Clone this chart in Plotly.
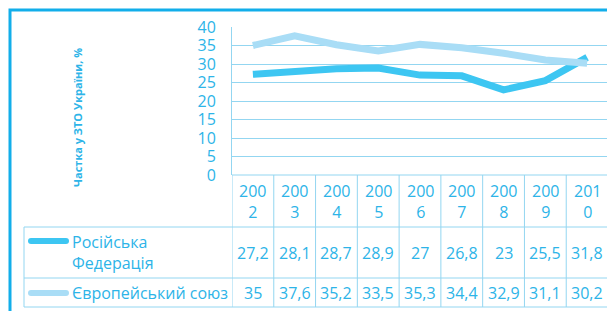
import plotly.graph_objects as go

years = ["2002", "2003", "2004", "2005", "2006", "2007", "2008", "2009", "2010"]
rf_values = [27.2, 28.1, 28.7, 28.9, 27.0, 26.8, 23.0, 25.5, 31.8]
eu_values = [35.0, 37.6, 35.2, 33.5, 35.3, 34.4, 32.9, 31.1, 30.2]
series_names = ["Російська<br>Федерація", "Європейський союз"]
y_ticks = [0, 5, 10, 15, 20, 25, 30, 35, 40]
y_title = "Частка у ЗТО України, %"

# the page body adds an 8px margin, so the figure is laid out 8px smaller
OFF = 8
W, H = 615 - OFF, 311 - OFF
FONT = "Open Sans"
TXT = "#2DB4E8"
GRID = "#93D6F1"
RF_COL = "#3DC6F2"
EU_COL = "#A9DDF6"
FRAME = "#12AEEA"


def px(x):
    return (x - OFF) / W


def py(y):
    return 1 - (y - OFF) / H


def fmt(v):
    return ("%g" % v).replace(".", ",")


n = len(years)
xs = list(range(n))

fig = go.Figure()
fig.add_trace(go.Scatter(x=xs, y=rf_values, mode="lines",
                         line=dict(color=RF_COL, width=7), hoverinfo="skip"))
fig.add_trace(go.Scatter(x=xs, y=eu_values, mode="lines",
                         line=dict(color=EU_COL, width=7), hoverinfo="skip"))

shapes = []
annotations = []

plot_left, plot_right = 232, 608
plot_top = 27
hdr_top, row1_top, row2_top, tbl_bottom = 175, 227, 278, 307
tbl_left = 24

lw = dict(color=GRID, width=1)
shapes.append(dict(type="line", xref="paper", yref="paper", x0=px(plot_left), x1=px(plot_right),
                   y0=py(hdr_top), y1=py(hdr_top), line=lw))
for yy in (row1_top, row2_top, tbl_bottom):
    shapes.append(dict(type="line", xref="paper", yref="paper", x0=px(tbl_left), x1=px(plot_right),
                       y0=py(yy), y1=py(yy), line=lw))
for i in range(n + 1):
    shapes.append(dict(type="line", xref="x", yref="paper", x0=i - 0.5, x1=i - 0.5,
                       y0=py(hdr_top), y1=py(tbl_bottom), line=lw))
shapes.append(dict(type="line", xref="paper", yref="paper", x0=px(tbl_left), x1=px(tbl_left),
                   y0=py(row1_top), y1=py(tbl_bottom), line=lw))

for yy, col in ((241, RF_COL), (293, EU_COL)):
    shapes.append(dict(type="line", xref="paper", yref="paper", x0=px(31), x1=px(66),
                       y0=py(yy), y1=py(yy), line=dict(color=col, width=6)))
    for cx in (31, 66):
        shapes.append(dict(type="circle", xref="paper", yref="paper",
                           x0=px(cx - 3), x1=px(cx + 3), y0=py(yy - 3), y1=py(yy + 3),
                           fillcolor=col, line=dict(width=0)))

shapes.append(dict(type="rect", xref="paper", yref="paper", x0=px(10), x1=px(700),
                   y0=py(10), y1=py(400), line=dict(color=FRAME, width=3), layer="above"))

tf = dict(family=FONT, size=16, color=TXT)
for i, yr in enumerate(years):
    annotations.append(dict(x=i, y=py(201), xref="x", yref="paper", text=yr[:3] + "<br>" + yr[3:],
                            showarrow=False, font=tf, xanchor="center", yanchor="middle"))
    annotations.append(dict(x=i, y=py(253), xref="x", yref="paper", text=fmt(rf_values[i]),
                            showarrow=False, font=tf, xanchor="center", yanchor="middle"))
    annotations.append(dict(x=i, y=py(293), xref="x", yref="paper", text=fmt(eu_values[i]),
                            showarrow=False, font=tf, xanchor="center", yanchor="middle"))

annotations.append(dict(x=px(70), y=py(252), xref="paper", yref="paper", text=series_names[0],
                        showarrow=False, font=tf, xanchor="left", yanchor="middle", align="left"))
annotations.append(dict(x=px(70), y=py(293), xref="paper", yref="paper", text=series_names[1],
                        showarrow=False, font=tf, xanchor="left", yanchor="middle", align="left"))

annotations.append(dict(x=px(78), y=py(118), xref="paper", yref="paper", text="<b>" + y_title + "</b>",
                        textangle=-90, showarrow=False,
                        font=dict(family=FONT, size=11, color=TXT),
                        xanchor="center", yanchor="middle"))

fig.update_layout(
    width=W, height=H,
    margin=dict(l=0, r=0, t=0, b=0, autoexpand=False),
    paper_bgcolor="white", plot_bgcolor="white",
    showlegend=False,
    xaxis=dict(domain=[px(plot_left), px(plot_right)], range=[-0.5, n - 0.5],
               showgrid=False, showticklabels=False, zeroline=False, showline=False, fixedrange=True),
    yaxis=dict(domain=[py(hdr_top), py(plot_top)], range=[0, 40], tickvals=y_ticks,
               showgrid=True, gridcolor=GRID, gridwidth=1, zeroline=False,
               showline=True, linecolor=GRID, linewidth=1, automargin=False,
               tickfont=dict(family=FONT, size=16, color=TXT),
               ticks="outside", ticklen=12, tickcolor="rgba(0,0,0,0)"),
    shapes=shapes,
    annotations=annotations,
)

fig.write_html("out.html")
